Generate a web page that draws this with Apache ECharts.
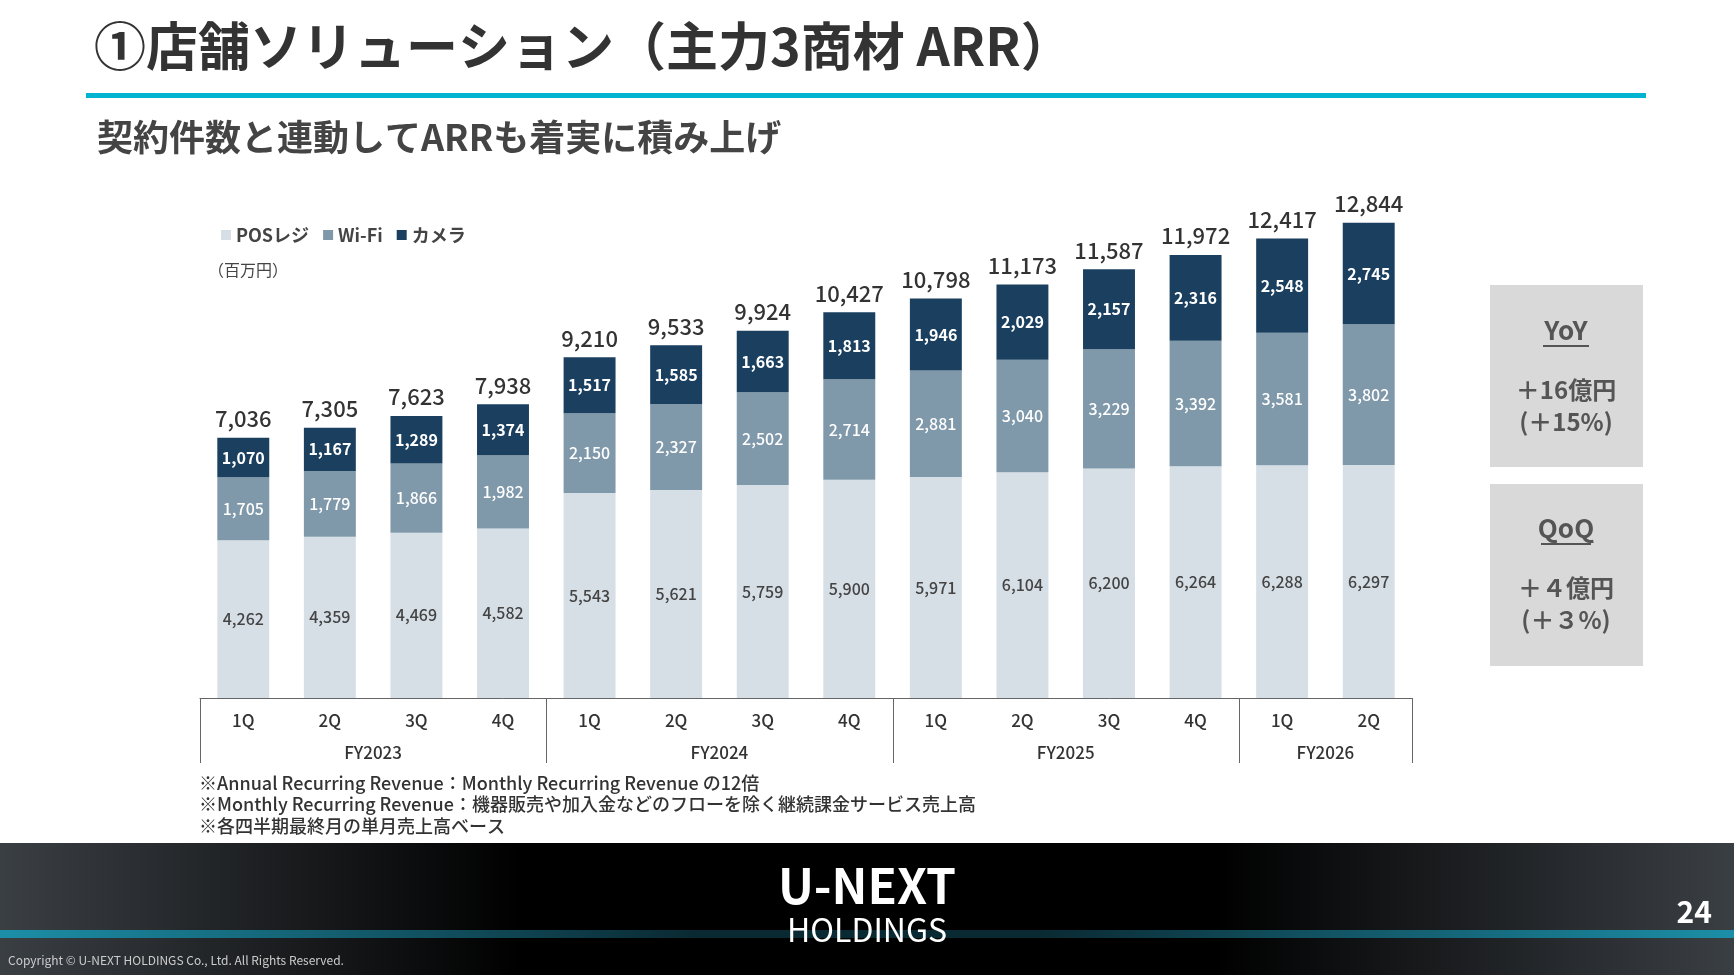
<!DOCTYPE html>
<html><head><meta charset="utf-8">
<script src="https://cdn.jsdelivr.net/npm/echarts@6/dist/echarts.min.js"></script>
<style>html,body{margin:0;padding:0;background:#fff}#c{width:1734px;height:975px}</style>
</head><body><div id="c"></div>
<script>
var quarters = ['1Q','2Q','3Q','4Q','1Q','2Q','3Q','4Q','1Q','2Q','3Q','4Q','1Q','2Q']
var fyLabels = {2:'FY2023', 6:'FY2024', 10:'FY2025', 13:'FY2026'}
var fyBounds = [0,4,8,12,14]
var pos = [4262,4359,4469,4582,5543,5621,5759,5900,5971,6104,6200,6264,6288,6297]
var wifi = [1705,1779,1866,1982,2150,2327,2502,2714,2881,3040,3229,3392,3581,3802]
var cam = [1070,1167,1289,1374,1517,1585,1663,1813,1946,2029,2157,2316,2548,2745]
var totals = [7036,7305,7623,7938,9210,9533,9924,10427,10798,11173,11587,11972,12417,12844]

var FONT = '"Noto Sans CJK JP","Noto Sans",sans-serif'
function fmt(v){ return v.toLocaleString('en-US') }
var chart = echarts.init(document.getElementById('c'))

var gfx = [
  {type:'text', left:94, top:20, style:{text:'①店舗ソリューション（主力3商材 ARR）', font:'bold 52px '+FONT, fill:'#333'}},
  {type:'rect', shape:{x:86,y:93,width:1560,height:5}, style:{fill:'#00b4d2'}},
  {type:'text', left:97, top:119, style:{text:'契約件数と連動してARRも着実に積み上げ', font:'bold 36px '+FONT, fill:'#444'}},
  {type:'text', left:208, top:262, style:{text:'（百万円）', font:'16px '+FONT, fill:'#444'}},
  {type:'rect', shape:{x:1490,y:285,width:153,height:182}, style:{fill:'#d9d9d9'}},
  {type:'text', x:1566, y:330, style:{text:'YoY', font:'bold 26px '+FONT, fill:'#555', align:'center', verticalAlign:'middle'}},
  {type:'rect', shape:{x:1543,y:345,width:46,height:2}, style:{fill:'#555'}},
  {type:'text', x:1566, y:406, style:{text:'＋16億円\n(＋15%)', font:'bold 24px '+FONT, fill:'#555', align:'center', verticalAlign:'middle', lineHeight:32}},
  {type:'rect', shape:{x:1490,y:484,width:153,height:182}, style:{fill:'#d9d9d9'}},
  {type:'text', x:1566, y:528, style:{text:'QoQ', font:'bold 26px '+FONT, fill:'#555', align:'center', verticalAlign:'middle'}},
  {type:'rect', shape:{x:1541,y:543,width:50,height:2}, style:{fill:'#555'}},
  {type:'text', x:1566, y:604, style:{text:'＋４億円\n(＋３%)', font:'bold 24px '+FONT, fill:'#555', align:'center', verticalAlign:'middle', lineHeight:32}},
  {type:'text', left:199, top:772, style:{text:'※Annual Recurring Revenue：Monthly Recurring Revenue の12倍\n※Monthly Recurring Revenue：機器販売や加入金などのフローを除く継続課金サービス売上高\n※各四半期最終月の単月売上高ベース', font:'500 18px '+FONT, fill:'#333', lineHeight:21.5}},
  {type:'rect', shape:{x:0,y:843,width:1734,height:132}, style:{fill:new echarts.graphic.LinearGradient(0,0,1,0,[{offset:0,color:'#3a3f44'},{offset:0.3,color:'#000'},{offset:0.7,color:'#000'},{offset:1,color:'#3a3f44'}])}},
  {type:'rect', shape:{x:0,y:930,width:1734,height:8}, style:{fill:new echarts.graphic.LinearGradient(0,0,1,0,[{offset:0,color:'#1c8fa8'},{offset:0.4,color:'#0a2a33'},{offset:0.6,color:'#0a2a33'},{offset:1,color:'#1c8fa8'}])}},
  {type:'text', x:867, y:886, style:{text:'U-NEXT', font:'bold 48px '+FONT, fill:'#fff', align:'center', verticalAlign:'middle'}},
  {type:'text', x:867, y:930, style:{text:'HOLDINGS', font:'32px '+FONT, fill:'#fff', align:'center', verticalAlign:'middle'}},
  {type:'text', x:1712, y:912, style:{text:'24', font:'bold 30px '+FONT, fill:'#fff', align:'right', verticalAlign:'middle'}},
  {type:'text', left:8, top:954, style:{text:'Copyright © U-NEXT HOLDINGS Co., Ltd. All Rights Reserved.', font:'12px '+FONT, fill:'#ccc'}}
]

function lbl(color, bold){
  return {show:true, position:'inside', color:color, fontSize:16, fontWeight:bold?'bold':500, fontFamily:FONT, formatter:function(p){return fmt(p.value)}}
}

chart.setOption({
  animation:false,
  textStyle:{fontFamily:FONT},
  legend:{left:216, top:221, itemWidth:10, itemHeight:10, itemGap:14, icon:'rect',
    textStyle:{fontSize:18, color:'#444', fontWeight:'bold'}, data:['POSレジ','Wi-Fi','カメラ']},
  grid:{left:200, right:322, top:217, bottom:277},
  xAxis:[
    {type:'category', data:quarters, axisTick:{show:false},
     axisLine:{lineStyle:{color:'#666', width:1}},
     axisLabel:{fontSize:17, color:'#333', fontWeight:500, margin:14}},
    {type:'value', min:0, max:14, interval:1, position:'bottom', offset:46,
     axisLine:{show:false}, axisTick:{show:false}, splitLine:{show:false},
     axisLabel:{fontSize:17, color:'#333', fontWeight:500, margin:0, formatter:function(v){return fyLabels[v]||''}}}
  ],
  yAxis:{type:'value', min:0, max:13000, show:false},
  series:[
    {name:'POSレジ', type:'bar', stack:'a', barWidth:'60%', data:pos, itemStyle:{color:'#d6dee6'}, label:lbl('#444')},
    {name:'Wi-Fi', type:'bar', stack:'a', data:wifi, itemStyle:{color:'#7f98aa'}, label:lbl('#fff')},
    {name:'カメラ', type:'bar', stack:'a', data:cam, itemStyle:{color:'#1a3f5f'}, label:lbl('#fff', true)},
    {name:'total', type:'bar', stack:'a', data:totals.map(function(){return 0}), itemStyle:{color:'transparent'},
     label:{show:true, position:'top', fontSize:22, fontWeight:500, color:'#333', distance:8, formatter:function(p){return fmt(totals[p.dataIndex])}}}
  ],
  graphic:gfx
})

// group separators under the axis
var baseY = chart.convertToPixel({yAxisIndex:0}, 0)
var lines = fyBounds.map(function(b){
  var x = Math.round(chart.convertToPixel({xAxisIndex:1}, b)) + 0.5
  return {type:'line', shape:{x1:x, y1:baseY, x2:x, y2:baseY+65}, style:{stroke:'#666', lineWidth:1}}
})
chart.setOption({graphic:gfx.concat(lines)})
</script></body></html>
